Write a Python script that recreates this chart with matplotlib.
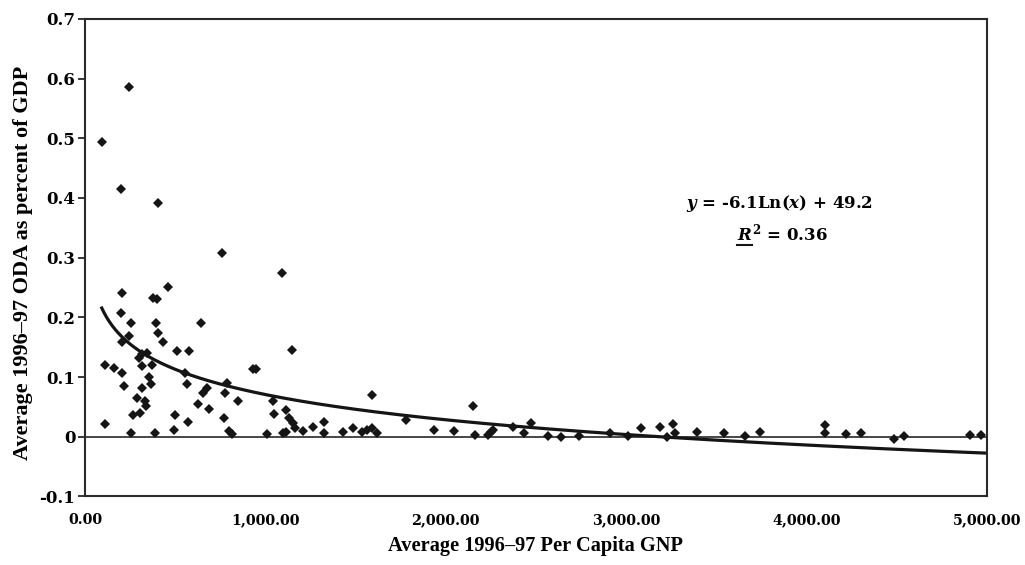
import numpy as np
import matplotlib
matplotlib.use("Agg")
import matplotlib.pyplot as plt
from matplotlib.ticker import FuncFormatter
from matplotlib.lines import Line2D
from matplotlib.transforms import IdentityTransform

# average 1996-97 per capita GNP and ODA (fraction of GDP)
gnp = [
    93, 111, 111, 161, 200, 200, 203, 203, 203, 218,
    246, 246, 253, 253, 265, 287, 301, 305, 314, 314,
    318, 333, 338, 342, 355, 366, 373, 375, 388, 392,
    401, 407, 407, 431, 462, 494, 499, 508, 555, 564,
    570, 577, 628, 642, 656, 675, 688, 758, 771, 776,
    786, 800, 814, 850, 934, 948, 1011, 1044, 1048, 1091,
    1100, 1115, 1115, 1130, 1146, 1155, 1162, 1211, 1266, 1326,
    1326, 1433, 1488, 1535, 1562, 1590, 1593, 1618, 1780, 1936,
    2047, 2154, 2163, 2237, 2250, 2265, 2372, 2435, 2472, 2570,
    2638, 2740, 2912, 3010, 3082, 3189, 3226, 3263, 3272, 3396,
    3544, 3661, 3744, 4104, 4104, 4221, 4304, 4487, 4539, 4908,
    4969,
]
oda = [
    0.493, 0.120, 0.021, 0.115, 0.415, 0.207, 0.240, 0.159, 0.106, 0.085,
    0.168, 0.585, 0.190, 0.006, 0.036, 0.064, 0.131, 0.040, 0.139, 0.118,
    0.081, 0.059, 0.052, 0.141, 0.100, 0.089, 0.120, 0.233, 0.006, 0.190,
    0.230, 0.392, 0.174, 0.159, 0.251, 0.012, 0.036, 0.144, 0.107, 0.088,
    0.025, 0.144, 0.054, 0.190, 0.073, 0.081, 0.046, 0.307, 0.031, 0.073,
    0.090, 0.010, 0.004, 0.060, 0.113, 0.113, 0.005, 0.060, 0.038, 0.275,
    0.006, 0.044, 0.008, 0.031, 0.146, 0.023, 0.014, 0.010, 0.017, 0.025,
    0.006, 0.008, 0.015, 0.008, 0.012, 0.015, 0.070, 0.007, 0.028, 0.011,
    0.010, 0.051, 0.003, 0.003, 0.008, 0.012, 0.016, 0.007, 0.023, 0.002,
    0.000, 0.001, 0.006, 0.002, 0.014, 0.017, 0.000, 0.022, 0.006, 0.008,
    0.006, 0.001, 0.008, 0.019, 0.006, 0.005, 0.006, -0.004, 0.001, 0.003,
    0.003,
]

# log trend as printed on the chart (y in percent)
trend_slope = -6.1
trend_intercept = 49.2
r_squared = 0.36

x_ticks = [0, 1000, 2000, 3000, 4000, 5000]
y_ticks = [-0.1, 0.0, 0.1, 0.2, 0.3, 0.4, 0.5, 0.6, 0.7]

plt.rcParams.update({
    "font.family": "DejaVu Serif",
    "font.weight": "bold",
    "mathtext.fontset": "custom",
    "mathtext.rm": "DejaVu Serif:bold",
    "mathtext.bf": "DejaVu Serif:bold",
    "mathtext.it": "DejaVu Serif:italic:bold",
    "axes.unicode_minus": False,
})

INK = "#151515"


def main():
    fig = plt.figure(figsize=(10.25, 5.65), dpi=100)
    ax = fig.add_axes([85 / 1025, 1 - 496.4 / 565,
                       901.7 / 1025, 477.6 / 565])

    ax.axhline(0, color=INK, lw=1.1, zorder=1)

    ax.plot(gnp, oda, linestyle="none", marker="D", ms=5.6,
            mew=0, color=INK, zorder=3)

    xs = np.linspace(min(gnp), 5000, 400)
    ax.plot(xs, (trend_slope * np.log(xs) + trend_intercept) / 100,
            color=INK, lw=2.3, zorder=2)

    ax.set_xlim(0, 5000)
    ax.set_ylim(-0.1, 0.7)
    ax.set_xticks(x_ticks)
    ax.set_yticks(y_ticks)
    ax.xaxis.set_major_formatter(FuncFormatter(lambda v, _: f"{v:,.2f}"))
    ax.yaxis.set_major_formatter(
        FuncFormatter(lambda v, _: "0" if abs(v) < 1e-9 else f"{v:.1f}"))

    ax.tick_params(axis="x", length=0, pad=12, labelsize=10.3)
    ax.tick_params(axis="y", length=5, width=1.2, pad=2,
                   labelsize=12, color=INK)
    for s in ax.spines.values():
        s.set_linewidth(1.5)
        s.set_color("#2a2a2a")

    ax.set_xlabel("Average 1996\u201397 Per Capita GNP",
                  fontfamily="Liberation Serif", fontsize=14.7,
                  fontweight="bold")
    ax.set_ylabel("Average 1996\u201397 ODA as percent of GDP",
                  fontfamily="Liberation Serif", fontsize=16,
                  fontweight="bold")
    ax.xaxis.set_label_coords(0.5, -0.083)
    ax.yaxis.set_label_coords(-0.058, 0.49)

    eq = f"$y$ = {trend_slope}Ln($x$) + {trend_intercept}"
    ax.text(3850, 0.391, eq, ha="center", va="center", fontsize=12)
    r2 = ax.text(3865, 0.341, f"$R^2$ = {r_squared}", ha="center",
                 va="center", fontsize=12)

    # underline the R like the original
    fig.canvas.draw()
    r = fig.canvas.get_renderer()
    bb = r2.get_window_extent(r)
    tmp = ax.text(0, 0, "$R$", fontsize=12)
    w = tmp.get_window_extent(r).width
    tmp.remove()
    fig.add_artist(Line2D([bb.x0, bb.x0 + w], [bb.y0 - 1, bb.y0 - 1],
                          transform=IdentityTransform(), color=INK, lw=1.5))

    fig.savefig("out.png", dpi=100)


if __name__ == "__main__":
    main()
